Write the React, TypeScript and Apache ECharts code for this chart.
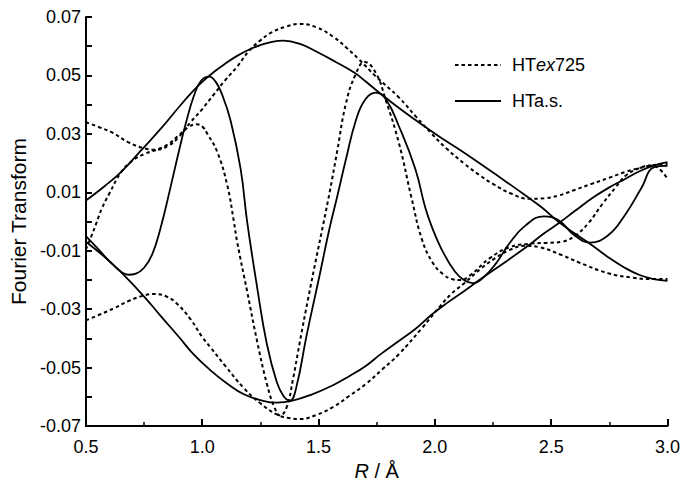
import React, { useEffect, useRef } from "react";
import * as echarts from "echarts";

const FONT = "'Liberation Sans', Arial, Helvetica, sans-serif";

// Solid (HTa.s.) curves: [R, FT]
const solidUpper: number[][] = [
  [0.5, 0.0072], [0.58, 0.0121], [0.654, 0.0172], [0.739, 0.0245], [0.82, 0.0316], [0.9, 0.0392],
  [0.96, 0.0446], [1.0, 0.0478], [1.05, 0.0512], [1.1, 0.0541], [1.15, 0.0567], [1.2, 0.0588],
  [1.25, 0.0604], [1.3, 0.0615], [1.35, 0.0619], [1.42, 0.0608], [1.49, 0.0582], [1.57, 0.0548],
  [1.653, 0.051], [1.7, 0.0481], [1.76, 0.0442], [1.84, 0.0392], [1.93, 0.034], [2.02, 0.029],
  [2.11, 0.0244], [2.2, 0.0195], [2.3, 0.014], [2.39, 0.0089], [2.46, 0.0048], [2.53, 0.0],
  [2.6, -0.004], [2.674, -0.008], [2.745, -0.0122], [2.816, -0.0158], [2.88, -0.0183], [2.94, -0.0197],
  [3.0, -0.0203],
];
const solidLower: number[][] = [
  [0.5, -0.0069], [0.58, -0.0121], [0.654, -0.0176], [0.754, -0.026], [0.82, -0.0322], [0.9, -0.0395],
  [0.96, -0.0452], [1.037, -0.051], [1.108, -0.0555], [1.179, -0.0591], [1.25, -0.0611], [1.32, -0.062],
  [1.384, -0.0614], [1.47, -0.0592], [1.562, -0.056], [1.63, -0.053], [1.703, -0.0494], [1.77, -0.0452],
  [1.845, -0.0409], [1.92, -0.0365], [1.987, -0.0318], [2.05, -0.028], [2.128, -0.0237], [2.2, -0.0195],
  [2.3, -0.014], [2.405, -0.008], [2.47, -0.004], [2.532, -0.0006], [2.6, 0.0035], [2.68, 0.0082],
  [2.75, 0.0117], [2.816, 0.0145], [2.88, 0.0172], [2.943, 0.0192], [3.0, 0.0203],
];
const solidOsc: number[][] = [
  [0.5, -0.005], [0.55, -0.0092], [0.6, -0.0135], [0.65, -0.0171], [0.683, -0.0182], [0.715, -0.0178],
  [0.75, -0.0158], [0.785, -0.0112], [0.82, -0.0025], [0.86, 0.0105], [0.895, 0.0225], [0.93, 0.0338],
  [0.965, 0.0432], [0.995, 0.0482], [1.03, 0.0496], [1.058, 0.0478], [1.085, 0.0435], [1.122, 0.0345],
  [1.165, 0.018], [1.193, 0.0], [1.236, -0.0225], [1.278, -0.042], [1.32, -0.0548], [1.35, -0.0598],
  [1.377, -0.0613], [1.405, -0.0565], [1.448, -0.0392], [1.505, -0.0182], [1.547, -0.0024], [1.58, 0.0085],
  [1.618, 0.0214], [1.66, 0.0345], [1.7, 0.0417], [1.746, 0.0441], [1.79, 0.0418], [1.845, 0.0327],
  [1.916, 0.018], [1.958, 0.005], [1.987, -0.0018], [2.029, -0.0095], [2.086, -0.0171], [2.128, -0.0202],
  [2.164, -0.0211], [2.2, -0.0198], [2.263, -0.0143], [2.32, -0.0075], [2.39, -0.0013], [2.469, 0.0018],
  [2.532, 0.0004], [2.6, -0.0047], [2.667, -0.0072], [2.745, -0.0047], [2.816, 0.0021], [2.886, 0.0112],
  [2.943, 0.0186], [3.0, 0.0191],
];

// Dashed (HTex725) curves
const dashedUpper: number[][] = [
  [0.5, 0.034], [0.56, 0.0322], [0.612, 0.0305], [0.683, 0.0271], [0.754, 0.025], [0.796, 0.0246],
  [0.853, 0.0259], [0.9, 0.029], [0.95, 0.034], [1.0, 0.0385], [1.05, 0.0435], [1.1, 0.0485],
  [1.15, 0.053], [1.2, 0.0583], [1.25, 0.062], [1.3, 0.0648], [1.36, 0.0667], [1.42, 0.0676],
  [1.49, 0.0665], [1.562, 0.0633], [1.62, 0.0595], [1.675, 0.0554], [1.746, 0.0497], [1.845, 0.0425],
  [1.92, 0.0358], [1.987, 0.03], [2.05, 0.025], [2.128, 0.0197], [2.19, 0.016], [2.249, 0.0129],
  [2.33, 0.0095], [2.405, 0.0078], [2.47, 0.008], [2.532, 0.0089], [2.6, 0.0108], [2.674, 0.0129],
  [2.75, 0.015], [2.816, 0.0169], [2.89, 0.0185], [2.957, 0.0195], [3.0, 0.0197],
];
const dashedLower: number[][] = [
  [0.5, -0.0338], [0.56, -0.0318], [0.62, -0.0297], [0.683, -0.0272], [0.754, -0.0252], [0.796, -0.0248],
  [0.85, -0.0258], [0.895, -0.0284], [0.95, -0.0335], [1.0, -0.0395], [1.037, -0.0432], [1.1, -0.0495],
  [1.179, -0.057], [1.25, -0.0622], [1.32, -0.066], [1.37, -0.0672], [1.42, -0.0676], [1.49, -0.0662],
  [1.562, -0.0635], [1.63, -0.0598], [1.703, -0.0556], [1.775, -0.0505], [1.845, -0.0454], [1.944, -0.0365],
  [2.022, -0.029], [2.07, -0.0248], [2.128, -0.021], [2.2, -0.016], [2.26, -0.0125], [2.32, -0.0098],
  [2.385, -0.0083], [2.45, -0.0088], [2.546, -0.0115], [2.62, -0.014], [2.745, -0.0177], [2.85, -0.0192],
  [2.93, -0.0197], [3.0, -0.0197],
];
const dashedOsc: number[][] = [
  [0.5, -0.0095], [0.526, -0.0045], [0.545, -0.0005], [0.568, 0.0044], [0.6, 0.0095], [0.654, 0.0172],
  [0.7, 0.0208], [0.754, 0.0232], [0.8, 0.0245], [0.85, 0.0263], [0.9, 0.0296], [0.94, 0.0323],
  [0.975, 0.0333], [1.0, 0.0325], [1.023, 0.0299], [1.065, 0.0237], [1.108, 0.0123], [1.136, 0.0],
  [1.15, -0.0069], [1.193, -0.0239], [1.236, -0.041], [1.278, -0.0556], [1.31, -0.0635], [1.335, -0.0664],
  [1.363, -0.0635], [1.39, -0.054], [1.42, -0.041], [1.455, -0.0265], [1.49, -0.0126], [1.52, -0.001],
  [1.55, 0.011], [1.58, 0.024], [1.618, 0.0405], [1.66, 0.0505], [1.698, 0.0546], [1.746, 0.0509],
  [1.788, 0.0418], [1.845, 0.027], [1.9, 0.008], [1.944, -0.006], [1.99, -0.014], [2.035, -0.018],
  [2.08, -0.0198], [2.11, -0.02], [2.15, -0.0185], [2.235, -0.0126], [2.32, -0.0088], [2.405, -0.0076],
  [2.48, -0.0073], [2.546, -0.0069], [2.6, -0.005], [2.66, -0.0005], [2.72, 0.006], [2.78, 0.012],
  [2.82, 0.0157], [2.88, 0.0183], [2.93, 0.0192], [2.965, 0.018], [3.0, 0.0146],
];

const legendNames = ["HTex725", "HTa.s."];

export default function App() {
  const ref = useRef<HTMLDivElement>(null);
  useEffect(() => {
    if (!ref.current) return;
    const chart = echarts.init(ref.current, null, { renderer: "svg" });
    const solidStyle = { color: "#000", width: 1.8, type: "solid" as const };
    const dashStyle = { color: "#000", width: 2, type: [3.5, 3] as any };
    const mk = (name: string, data: number[][], ls: any) => ({
      type: "line",
      name,
      data,
      symbol: "none",
      showSymbol: false,
      smooth: 0.45,
      lineStyle: ls,
      itemStyle: { color: "#000" },
      emphasis: { disabled: true },
      silent: true,
    });
    const legendY = [65, 101];
    chart.setOption({
      animation: false,
      backgroundColor: "#fff",
      grid: { left: 82, right: 13, top: 17, bottom: 57, containLabel: false },
      graphic: [
        {
          type: "line",
          silent: true,
          shape: { x1: 455, y1: legendY[0], x2: 501, y2: legendY[0] },
          style: { stroke: "#000", lineWidth: 2, lineDash: [3.5, 3] },
        },
        {
          type: "text",
          silent: true,
          x: 512,
          y: legendY[0],
          style: {
            text: "{a|HT}{i|ex}{a|725}",
            verticalAlign: "middle",
            fill: "#000",
            font: `18px ${FONT}`,
            rich: {
              a: { fontSize: 18, fontFamily: FONT, fill: "#000" },
              i: { fontSize: 18, fontFamily: FONT, fontStyle: "italic", fill: "#000" },
            },
          },
        },
        {
          type: "line",
          silent: true,
          shape: { x1: 455, y1: legendY[1], x2: 501, y2: legendY[1] },
          style: { stroke: "#000", lineWidth: 2 },
        },
        {
          type: "text",
          silent: true,
          x: 512,
          y: legendY[1],
          style: {
            text: legendNames[1],
            verticalAlign: "middle",
            fill: "#000",
            font: `18px ${FONT}`,
          },
        },
      ],
      xAxis: {
        type: "value",
        min: 0.5,
        max: 3.0,
        interval: 0.5,
        name: "{i|R} / Å",
        nameLocation: "middle",
        nameGap: 28,
        nameTextStyle: {
          color: "#000",
          fontSize: 20,
          fontFamily: FONT,
          verticalAlign: "top",
          rich: {
            i: { fontSize: 20, fontFamily: FONT, fontStyle: "italic", color: "#000" },
          },
        },
        axisLine: { onZero: false, lineStyle: { color: "#000", width: 2 } },
        axisTick: { inside: true, length: 7, lineStyle: { color: "#000", width: 2 } },
        minorTick: { show: true, splitNumber: 2, length: 4, lineStyle: { color: "#000", width: 1.5 } },
        splitLine: { show: false },
        axisLabel: {
          color: "#000",
          fontSize: 18,
          fontFamily: FONT,
          margin: 12,
          formatter: (v: number) => v.toFixed(1),
        },
      },
      yAxis: {
        type: "value",
        min: -0.07,
        max: 0.07,
        interval: 0.01,
        name: "Fourier Transform",
        nameLocation: "middle",
        nameGap: 52,
        nameTextStyle: { color: "#000", fontSize: 21, fontFamily: FONT },
        axisLine: { show: true, onZero: false, lineStyle: { color: "#000", width: 2 } },
        axisTick: { show: true, inside: true, length: 6, lineStyle: { color: "#000", width: 2 } },
        splitLine: { show: false },
        axisLabel: {
          color: "#000",
          fontSize: 18,
          fontFamily: FONT,
          margin: 5,
          formatter: (v: number) => {
            const k = Math.round(v * 100);
            if (k % 2 === 0) return "";
            return (k < 0 ? "-" : "") + "0.0" + Math.abs(k);
          },
        },
      },
      series: [
        mk(legendNames[0], dashedUpper, dashStyle),
        mk(legendNames[0], dashedLower, dashStyle),
        mk(legendNames[0], dashedOsc, dashStyle),
        mk(legendNames[1], solidUpper, solidStyle),
        mk(legendNames[1], solidLower, solidStyle),
        mk(legendNames[1], solidOsc, solidStyle),
      ],
    });
    return () => chart.dispose();
  }, []);
  return (
    <div
      ref={ref}
      style={{ position: "fixed", left: 0, top: 0, width: 683, height: 486, background: "#fff" }}
    />
  );
}
